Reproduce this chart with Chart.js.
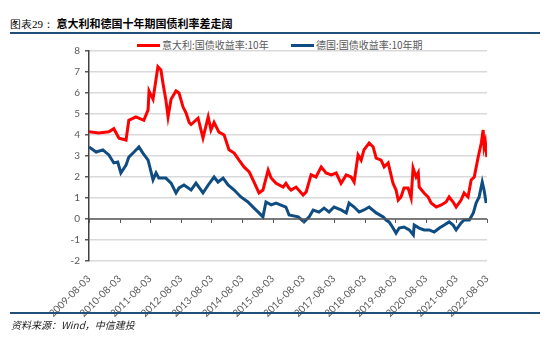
<!DOCTYPE html>
<html lang="zh">
<head>
<meta charset="UTF-8">
<title>意大利和德国十年期国债利率差走阔</title>
<script src="https://cdn.jsdelivr.net/npm/chart.js@4.4.9/dist/chart.umd.js"></script>
<style>
    body { margin: 0; width: 550px; height: 337px; background: #fff; position: relative; overflow: hidden;
           font-family: "Noto Sans CJK SC", sans-serif; }
    .title { position: absolute; left: 10px; top: 15px; font-size: 11px; font-weight: bold; color: #000; }
    .title .num { font-family: "Liberation Serif", serif; font-weight: normal; }
    .rule { position: absolute; left: 10px; width: 530px; height: 2px; background: #1f4e79; }
    .legend { position: absolute; top: 37px; left: 137px; font-size: 10px; color: #595959; white-space: nowrap; }
    .legend span.mark { display: inline-block; width: 23px; height: 3px; vertical-align: middle; margin-right: 2px; position: relative; top: -1px; }
    .legend .item { display: inline-block; }
    .legend .item + .item { margin-left: 20px; }
    .source { position: absolute; left: 11px; top: 317px; font-size: 10px; font-style: italic; color: #222; }
    .chart-box { position: absolute; left: 0; top: 0; width: 550px; height: 337px; }
</style>
</head>
<body>
<div class="title"><span class="num">图表29：</span> 意大利和德国十年期国债利率差走阔</div>
<div class="rule" style="top:32px"></div>
<div class="legend">
    <span class="item"><span class="mark" style="background:#ff0000"></span>意大利:国债收益率:10年</span>
    <span class="item"><span class="mark" style="background:#0f4c81"></span>德国:国债收益率:10年期</span>
</div>
<div class="chart-box"><canvas id="chart" width="550" height="337"></canvas></div>
<div class="rule" style="top:312px"></div>
<div class="source">资料来源：Wind，中信建投</div>

<script>
// x tick labels (one per year)
const tickLabels = ['2009-08-03', '2010-08-03', '2011-08-03', '2012-08-03', '2013-08-03', '2014-08-03',
    '2015-08-03', '2016-08-03', '2017-08-03', '2018-08-03', '2019-08-03', '2020-08-03',
    '2021-08-03', '2022-08-03'];

// Italy 10y yield
const itDates = ['2009-08-03', '2009-11-28', '2010-03-28', '2010-05-26', '2010-07-27', '2010-10-19',
    '2010-11-21', '2011-02-14', '2011-05-19', '2011-07-09', '2011-07-20', '2011-09-06', '2011-11-03',
    '2011-12-09', '2012-01-01', '2012-02-06', '2012-03-03', '2012-04-08', '2012-06-06', '2012-07-12',
    '2012-08-29', '2012-10-04', '2012-11-10', '2012-12-03', '2013-02-24', '2013-04-24', '2013-06-25',
    '2013-07-28', '2013-09-03', '2013-10-31', '2014-01-01', '2014-02-28', '2014-05-01', '2014-06-28',
    '2014-08-26', '2014-10-27', '2014-12-24', '2015-02-21', '2015-04-09', '2015-06-10', '2015-07-16',
    '2015-09-13', '2015-12-06', '2016-01-08', '2016-02-13', '2016-03-10', '2016-05-08', '2016-07-31',
    '2016-09-06', '2016-11-03', '2017-01-01', '2017-03-04', '2017-05-01', '2017-07-02', '2017-08-30',
    '2017-10-27', '2017-12-28', '2018-02-24', '2018-04-01', '2018-05-18', '2018-06-24', '2018-07-27',
    '2018-09-27', '2018-11-14', '2018-12-20', '2019-02-17', '2019-03-25', '2019-05-12', '2019-06-03',
    '2019-07-08', '2019-08-14', '2019-09-09', '2019-10-12', '2019-11-17', '2020-01-04', '2020-02-10',
    '2020-03-04', '2020-04-09', '2020-05-05', '2020-05-16', '2020-07-13', '2020-08-30', '2020-10-05',
    '2020-12-06', '2021-02-03', '2021-04-02', '2021-05-08', '2021-06-25', '2021-07-31', '2021-09-28',
    '2021-11-03', '2021-12-20', '2022-01-26', '2022-03-04', '2022-04-20', '2022-05-27', '2022-06-18',
    '2022-06-29', '2022-07-14', '2022-08-01'];
const itYield = [4.16, 4.10, 4.15, 4.30, 3.85, 3.76,
    4.70, 4.86, 4.70, 5.20, 6.10, 5.70, 7.25,
    7.10, 6.50, 5.67, 4.86, 5.70, 6.10, 6.00,
    5.33, 5.05, 4.60, 4.50, 4.80, 3.86, 4.86,
    4.24, 4.60, 4.14, 4.00, 3.30, 3.14, 2.80,
    2.48, 2.24, 1.76, 1.24, 1.38, 2.33, 1.95,
    1.70, 1.52, 1.70, 1.48, 1.38, 1.52, 1.14,
    1.29, 2.10, 2.00, 2.48, 2.19, 2.10, 2.19,
    1.70, 2.10, 2.00, 1.76, 3.05, 2.80, 3.29,
    3.62, 3.43, 2.90, 2.80, 2.48, 2.67, 2.30,
    1.71, 1.38, 0.90, 1.05, 1.48, 1.48, 1.00,
    2.43, 2.00, 2.20, 1.52, 1.24, 1.05, 0.76,
    0.57, 0.67, 0.81, 1.05, 0.81, 0.57, 0.90,
    1.24, 1.05, 1.86, 2.00, 2.95, 3.62, 4.24,
    3.43, 3.67, 2.95];

// Germany 10y yield
const deDates = ['2009-08-03', '2009-10-27', '2010-01-15', '2010-03-28', '2010-05-26', '2010-07-12',
    '2010-08-18', '2010-10-19', '2010-11-21', '2011-01-22', '2011-03-22', '2011-05-08', '2011-07-09',
    '2011-09-06', '2011-10-12', '2011-11-14', '2012-02-06', '2012-04-08', '2012-06-06', '2012-07-12',
    '2012-09-09', '2012-12-03', '2013-01-30', '2013-04-24', '2013-06-25', '2013-09-03', '2013-10-20',
    '2013-12-20', '2014-02-17', '2014-05-01', '2014-07-20', '2014-10-12', '2014-12-24', '2015-02-21',
    '2015-04-09', '2015-05-15', '2015-07-16', '2015-09-13', '2016-01-08', '2016-02-15', '2016-06-03',
    '2016-08-11', '2016-10-12', '2016-11-28', '2017-02-06', '2017-04-08', '2017-06-06', '2017-08-04',
    '2017-10-27', '2017-12-28', '2018-01-30', '2018-04-01', '2018-05-30', '2018-07-27', '2018-09-27',
    '2018-12-20', '2019-03-14', '2019-04-17', '2019-05-22', '2019-06-17', '2019-08-14', '2019-09-20',
    '2019-11-17', '2020-01-19', '2020-03-07', '2020-03-18', '2020-05-16', '2020-07-13', '2020-09-13',
    '2020-11-11', '2021-01-12', '2021-03-11', '2021-05-08', '2021-06-25', '2021-07-31', '2021-09-28',
    '2021-11-03', '2022-01-04', '2022-02-21', '2022-03-26', '2022-05-01', '2022-06-07', '2022-06-29',
    '2022-07-24'];
const deYield = [3.43, 3.19, 3.29, 3.05, 2.67, 2.71,
    2.19, 2.57, 2.95, 3.19, 3.43, 3.14, 2.80,
    1.86, 2.19, 1.95, 1.95, 1.71, 1.24, 1.48,
    1.62, 1.38, 1.71, 1.24, 1.62, 2.00, 1.76,
    1.95, 1.62, 1.38, 1.05, 0.81, 0.52, 0.29,
    0.10, 0.81, 0.67, 0.76, 0.57, 0.19, 0.10,
    -0.14, 0.10, 0.43, 0.33, 0.52, 0.33, 0.57,
    0.43, 0.29, 0.76, 0.57, 0.33, 0.43, 0.57,
    0.29, 0.10, -0.05, -0.14, -0.29, -0.67, -0.43,
    -0.38, -0.52, -0.76, -0.29, -0.43, -0.52, -0.52,
    -0.62, -0.43, -0.29, -0.14, -0.29, -0.52, -0.19,
    -0.05, -0.05, 0.29, 0.76, 1.05, 1.76, 1.38,
    0.76];

const yTicks = [-2, -1, 0, 1, 2, 3, 4, 5, 6, 7, 8];

// days since the first tick
const dayMs = 86400000;
const base = Date.parse(tickLabels[0]);
function toDay(s) { return (Date.parse(s) - base) / dayMs; }
function pairs(dates, vals) { return dates.map((d, i) => ({ x: toDay(d), y: vals[i] })); }

// small tick marks hanging from the zero line
const zeroTicks = {
    id: 'zeroTicks',
    afterDatasetsDraw(chart) {
        const ctx = chart.ctx, xs = chart.scales.x, ys = chart.scales.y;
        const y0 = ys.getPixelForValue(0);
        ctx.save();
        ctx.strokeStyle = '#595959';
        ctx.lineWidth = 1.5;
        ctx.beginPath();
        ctx.moveTo(chart.chartArea.left, y0);
        ctx.lineTo(chart.chartArea.right, y0);
        ctx.stroke();
        ctx.lineWidth = 1;
        tickLabels.forEach(t => {
            const x = Math.round(xs.getPixelForValue(toDay(t))) + 0.5;
            ctx.beginPath();
            ctx.moveTo(x, y0);
            ctx.lineTo(x, y0 + 4);
            ctx.stroke();
        });
        ctx.restore();
    }
};

new Chart(document.getElementById('chart'), {
    type: 'line',
    data: {
        datasets: [
            {
                label: '意大利:国债收益率:10年',
                data: pairs(itDates, itYield),
                borderColor: '#ff0000',
                borderWidth: 3,
                pointRadius: 0,
                tension: 0
            },
            {
                label: '德国:国债收益率:10年期',
                data: pairs(deDates, deYield),
                borderColor: '#0f4c81',
                borderWidth: 3,
                pointRadius: 0,
                tension: 0
            }
        ]
    },
    options: {
        responsive: false,
        animation: false,
        layout: { padding: { top: 51, right: 63, left: 0, bottom: 0 } },
        plugins: { legend: { display: false }, tooltip: { enabled: false } },
        scales: {
            x: {
                type: 'linear',
                min: 0,
                max: toDay(tickLabels[tickLabels.length - 1]),
                afterBuildTicks(scale) {
                    scale.ticks = tickLabels.map(t => ({ value: toDay(t) }));
                },
                afterFit(scale) { scale.height = 76; },
                grid: { display: false },
                border: { display: false },
                ticks: {
                    autoSkip: false,
                    minRotation: 45,
                    maxRotation: 45,
                    padding: 4,
                    color: '#595959',
                    font: { family: 'Lato, "Noto Sans CJK SC", sans-serif', size: 10 },
                    callback(v) {
                        const i = tickLabels.findIndex(t => Math.abs(toDay(t) - v) < 1);
                        return i >= 0 ? tickLabels[i] : '';
                    }
                }
            },
            y: {
                min: yTicks[0],
                max: yTicks[yTicks.length - 1],
                afterFit(scale) { scale.width = 89; },
                ticks: {
                    stepSize: 1,
                    padding: 5,
                    color: '#595959',
                    font: { family: 'Lato, "Noto Sans CJK SC", sans-serif', size: 10 }
                },
                grid: {
                    color: '#d9d9d9',
                    lineWidth: 1.5,
                    tickColor: '#595959',
                    tickLength: 4
                },
                border: { display: true, color: '#404040', width: 1.5 }
            }
        }
    },
    plugins: [zeroTicks]
});
</script>
</body>
</html>
